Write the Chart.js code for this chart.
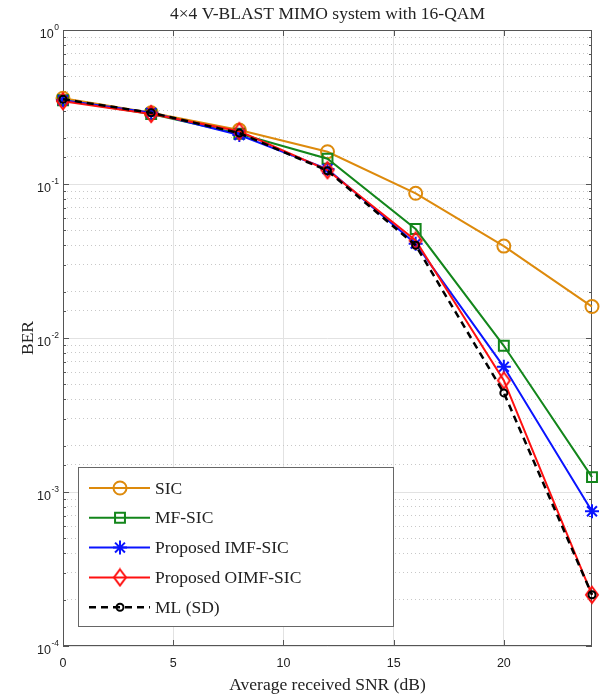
<!DOCTYPE html>
<html>
<head>
<meta charset="utf-8">
<script src="https://cdn.jsdelivr.net/npm/chart.js@4/dist/chart.umd.min.js"></script>
<style>
  html, body { margin:0; padding:0; background:#fff; }
  #wrap { position:relative; width:605px; height:700px; }
</style>
</head>
<body>
<div id="wrap"><canvas id="c" width="605" height="700"></canvas></div>
<script>
// ── data ─────────────────────────────────────────────────────────────────────
const SNR_DB   = [0, 4, 8, 12, 16, 20, 24];
const BER_SIC  = [0.36, 0.29, 0.224, 0.162, 0.087, 0.0395, 0.016];
const BER_MF   = [0.35, 0.285, 0.212, 0.146, 0.051, 0.0089, 0.00125];
const BER_IMF  = [0.35, 0.29, 0.208, 0.125, 0.041, 0.0065, 0.00075];
const BER_OIMF = [0.345, 0.285, 0.22, 0.123, 0.043, 0.0053, 0.000215];
const BER_ML   = [0.355, 0.29, 0.214, 0.122, 0.04, 0.0044, 0.000215];
const X_TICKS  = [0, 5, 10, 15, 20];
const TITLE    = "4\u00d74 V-BLAST MIMO system with 16-QAM";

const SERIF = '"Liberation Serif", "Times New Roman", serif';
const SANS  = '"Liberation Sans", Arial, sans-serif';

const isMajor = v => Math.abs(Math.log10(v) - Math.round(Math.log10(v))) < 1e-6;

// taller-than-wide diamond like matlab's 'd' marker
function diamond(color) {
  const c = document.createElement("canvas");
  c.width = 16; c.height = 20;
  const g = c.getContext("2d");
  g.strokeStyle = color; g.lineWidth = 2;
  g.beginPath(); g.moveTo(8,2); g.lineTo(14,10); g.lineTo(8,18); g.lineTo(2,10); g.closePath();
  g.stroke();
  return c;
}

const pts = arr => SNR_DB.map((x,i) => ({ x, y: arr[i] }));

const datasets = [
  { label:"SIC", data:pts(BER_SIC), borderColor:"#dd8a0c", pointStyle:"circle", pointRadius:6.5, order:5 },
  { label:"MF-SIC", data:pts(BER_MF), borderColor:"#13861b", pointStyle:"rect", pointRadius:7, order:4 },
  { label:"Proposed IMF-SIC", data:pts(BER_IMF), borderColor:"#0a14ff", pointStyle:"star", pointRadius:7, order:3 },
  { label:"Proposed OIMF-SIC", data:pts(BER_OIMF), borderColor:"#ff1010", pointStyle:diamond("#ff1010"), pointRadius:8, order:2 },
  { label:"ML (SD)", data:pts(BER_ML), borderColor:"#000", pointStyle:"circle", pointRadius:3.5, borderDash:[7,5], order:1 },
].map(d => ({
  ...d, borderWidth: d.label === "ML (SD)" ? 2.5 : 2, pointBorderColor:d.borderColor, pointBackgroundColor:"transparent",
  pointBorderWidth:2, pointHoverRadius:d.pointRadius, tension:0, clip:false, fill:false,
}));

// ── plugins: matlab style box + inward ticks, 10^n labels, title, legend ────
const matlabBox = {
  id:"matlabBox",
  beforeDatasetsDraw(chart) {
    const { ctx, chartArea:a, scales:{ x, y } } = chart;
    ctx.save();
    ctx.strokeStyle = "#555"; ctx.lineWidth = 1;
    ctx.strokeRect(a.left + .5, a.top + .5, a.width - 1, a.height - 1);
    ctx.beginPath();
    x.ticks.forEach(t => {
      const px = Math.round(x.getPixelForValue(t.value)) + .5;
      ctx.moveTo(px, a.bottom); ctx.lineTo(px, a.bottom - 6);
      ctx.moveTo(px, a.top); ctx.lineTo(px, a.top + 6);
    });
    y.ticks.forEach(t => {
      const py = Math.round(y.getPixelForValue(t.value)) + .5;
      const len = isMajor(t.value) ? 6 : 3;
      ctx.moveTo(a.left, py); ctx.lineTo(a.left + len, py);
      ctx.moveTo(a.right, py); ctx.lineTo(a.right - len, py);
    });
    ctx.stroke();
    // y labels as 10 with raised exponent
    ctx.fillStyle = "#222"; ctx.textBaseline = "middle";
    y.ticks.filter(t => isMajor(t.value)).forEach(t => {
      const py = y.getPixelForValue(t.value);
      const e = String(Math.round(Math.log10(t.value)));
      ctx.font = `8.5px ${SANS}`; ctx.textAlign = "right";
      ctx.fillText(e, a.left - 4, py - 2);
      const ew = ctx.measureText(e).width;
      ctx.font = `12.5px ${SANS}`;
      ctx.fillText("10", a.left - 4 - ew - 0.5, py + 5);
    });
    ctx.restore();
  },
  afterDraw(chart) {
    const { ctx, chartArea:a } = chart;
    ctx.save();
    // title
    ctx.fillStyle = "#222"; ctx.font = `17.5px ${SERIF}`;
    ctx.textAlign = "center"; ctx.textBaseline = "middle";
    ctx.fillText(TITLE, (a.left + a.right) / 2, 14);
    // legend
    const bx = 78, by = 467, bw = 315, bh = 159;
    ctx.fillStyle = "#fff"; ctx.fillRect(bx, by, bw, bh);
    ctx.strokeStyle = "#666"; ctx.lineWidth = 1;
    ctx.strokeRect(bx + .5, by + .5, bw, bh);
    chart.data.datasets.forEach((d, i) => {
      const cy = by + 21 + i * 29.8;
      ctx.strokeStyle = d.borderColor; ctx.lineWidth = d.borderWidth;
      ctx.setLineDash(d.borderDash || []);
      ctx.beginPath(); ctx.moveTo(89, cy); ctx.lineTo(150, cy); ctx.stroke();
      ctx.setLineDash([]);
      ctx.lineWidth = d.pointBorderWidth; ctx.fillStyle = "rgba(0,0,0,0)";
      Chart.helpers.drawPoint(ctx, { pointStyle:d.pointStyle, radius:d.pointRadius, borderWidth:d.pointBorderWidth, rotation:0 }, 120, cy);
      ctx.fillStyle = "#222"; ctx.font = `17.5px ${SERIF}`;
      ctx.textAlign = "left"; ctx.textBaseline = "middle";
      ctx.fillText(d.label, 155, cy + 1);
    });
    ctx.restore();
  },
};

new Chart(document.getElementById("c"), {
  type:"line",
  data:{ datasets },
  options:{
    responsive:false, animation:false, events:[],
    layout:{ padding:{ top:30, right:13, left:0, bottom:0 } },
    plugins:{ legend:{ display:false }, tooltip:{ enabled:false }, title:{ display:false } },
    scales:{
      x:{
        type:"linear", min:0, max:24,
        afterBuildTicks: s => { s.ticks = X_TICKS.map(v => ({ value:v })); },
        afterFit: s => { s.height = 54; },
        grid:{ color:"#e2e2e2", drawTicks:false, lineWidth:1 },
        border:{ display:false },
        ticks:{ padding:10, color:"#222", font:{ family:SANS, size:12.5 } },
        title:{ display:true, text:"Average received SNR (dB)", color:"#222",
                font:{ family:SERIF, size:17.5 }, padding:{ top:0, bottom:4 } },
      },
      y:{
        type:"logarithmic", min:1e-4, max:1,
        afterFit: s => { s.width = 63; },
        grid:{ color: c => (c.tick && !isMajor(c.tick.value)) ? "#c8c8c8" : "#e2e2e2", drawTicks:false, lineWidth:1 },
        border:{ display:false, dash: c => (c.tick && !isMajor(c.tick.value)) ? [1,3] : [] },
        ticks:{ display:false, autoSkip:false },
        title:{ display:true, text:"BER", color:"#222", font:{ family:SERIF, size:17.5 }, padding:{ top:18, bottom:0 } },
      },
    },
  },
  plugins:[matlabBox],
});
</script>
</body>
</html>
